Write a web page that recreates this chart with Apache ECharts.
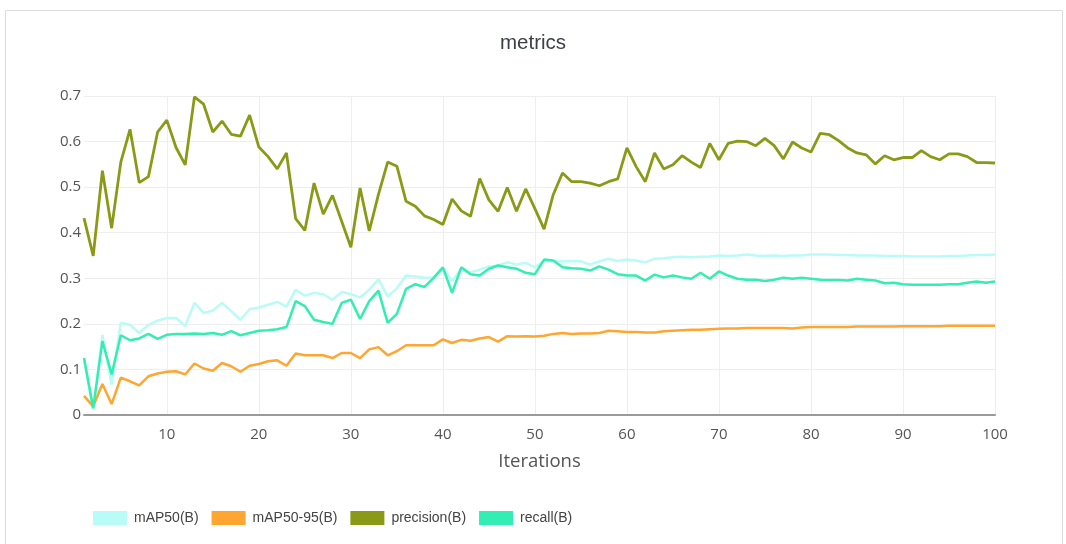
<!DOCTYPE html>
<html>
<head>
<meta charset="utf-8">
<script src="https://cdn.jsdelivr.net/npm/echarts@6/dist/echarts.min.js"></script>
<style>
html,body{margin:0;padding:0;background:#fff;}
#chart{width:1066px;height:544px;}
</style>
</head>
<body>
<div id="chart"></div>
<script>
const iterations = [1,2,3,4,5,6,7,8,9,10,11,12,13,14,15,16,17,18,19,20,21,22,23,24,25,26,27,28,29,30,31,32,33,34,35,36,37,38,39,40,41,42,43,44,45,46,47,48,49,50,51,52,53,54,55,56,57,58,59,60,61,62,63,64,65,66,67,68,69,70,71,72,73,74,75,76,77,78,79,80,81,82,83,84,85,86,87,88,89,90,91,92,93,94,95,96,97,98,99,100];

const mAP50 = [0.122,0.012,0.176,0.067,0.202,0.198,0.18,0.198,0.207,0.213,
0.213,0.195,0.246,0.224,0.229,0.246,0.228,0.209,0.232,0.236,
0.242,0.248,0.238,0.275,0.262,0.268,0.265,0.253,0.27,0.265,
0.258,0.275,0.298,0.26,0.278,0.306,0.304,0.301,0.302,0.322,
0.294,0.321,0.313,0.319,0.326,0.328,0.335,0.33,0.334,0.324,
0.338,0.338,0.337,0.338,0.337,0.33,0.337,0.343,0.338,0.341,
0.339,0.335,0.343,0.344,0.346,0.347,0.346,0.347,0.348,0.35,
0.349,0.35,0.352,0.35,0.349,0.35,0.349,0.35,0.35,0.352,
0.352,0.352,0.351,0.351,0.35,0.35,0.35,0.349,0.349,0.349,
0.348,0.348,0.348,0.348,0.349,0.349,0.35,0.351,0.351,0.352];

const mAP5095 = [0.042,0.019,0.068,0.024,0.082,0.074,0.065,0.085,0.091,0.095,
0.096,0.089,0.113,0.102,0.097,0.114,0.107,0.095,0.108,0.112,
0.118,0.12,0.108,0.135,0.131,0.131,0.131,0.125,0.136,0.136,
0.125,0.144,0.149,0.131,0.14,0.153,0.153,0.153,0.153,0.166,
0.158,0.165,0.163,0.168,0.171,0.161,0.173,0.172,0.173,0.172,
0.174,0.178,0.18,0.178,0.179,0.179,0.18,0.185,0.184,0.182,
0.182,0.181,0.181,0.184,0.185,0.186,0.187,0.187,0.188,0.189,
0.19,0.19,0.191,0.191,0.191,0.191,0.191,0.19,0.192,0.193,
0.193,0.193,0.193,0.193,0.194,0.194,0.194,0.194,0.194,0.195,
0.195,0.195,0.195,0.195,0.196,0.196,0.196,0.196,0.196,0.196];

const precision = [0.432,0.349,0.536,0.41,0.555,0.627,0.51,0.523,0.621,0.647,
0.587,0.549,0.698,0.682,0.621,0.645,0.616,0.612,0.658,0.588,
0.567,0.54,0.575,0.431,0.405,0.509,0.441,0.482,0.425,0.368,
0.498,0.404,0.484,0.555,0.546,0.469,0.458,0.437,0.429,0.418,
0.474,0.448,0.436,0.519,0.472,0.447,0.499,0.447,0.496,0.453,
0.408,0.484,0.531,0.512,0.512,0.509,0.503,0.512,0.518,0.586,
0.545,0.512,0.575,0.54,0.549,0.569,0.555,0.543,0.596,0.56,
0.596,0.601,0.6,0.591,0.607,0.591,0.562,0.599,0.586,0.577,
0.618,0.615,0.602,0.586,0.575,0.571,0.551,0.569,0.56,0.565,
0.565,0.58,0.567,0.56,0.573,0.573,0.567,0.554,0.554,0.553];

const recall = [0.125,0.015,0.162,0.089,0.175,0.164,0.168,0.178,0.167,0.176,
0.178,0.178,0.179,0.178,0.18,0.176,0.184,0.175,0.18,0.185,
0.186,0.188,0.193,0.25,0.239,0.209,0.204,0.2,0.246,0.253,
0.211,0.25,0.273,0.202,0.222,0.277,0.287,0.281,0.301,0.324,
0.268,0.324,0.309,0.306,0.321,0.328,0.324,0.321,0.312,0.309,
0.341,0.339,0.324,0.322,0.321,0.317,0.326,0.319,0.309,0.306,
0.306,0.295,0.308,0.302,0.306,0.302,0.299,0.312,0.299,0.315,
0.306,0.299,0.297,0.297,0.294,0.297,0.301,0.299,0.301,0.299,
0.297,0.296,0.296,0.295,0.299,0.297,0.295,0.289,0.29,0.287,
0.286,0.286,0.286,0.286,0.287,0.287,0.29,0.293,0.29,0.293];

const seriesNames = ['mAP50(B)','mAP50-95(B)','precision(B)','recall(B)'];
const seriesData = [mAP50, mAP5095, precision, recall];
const seriesColors = ['#b9fbf7','#ffa630','#8a9a16','#33eeb2'];
const yTicks = [0,0.1,0.2,0.3,0.4,0.5,0.6,0.7];

const chart = echarts.init(document.getElementById('chart'));
const showTick = (idx, val) => Number(val) % 10 === 0;

chart.setOption({
  backgroundColor: '#ffffff',
  animation: false,
  graphic: [{
    type: 'rect',
    shape: {x: 5.5, y: 10.5, width: 1057, height: 560},
    style: {fill: 'none', stroke: '#dcdcdc', lineWidth: 1},
    silent: true
  }],
  title: {
    text: 'metrics',
    left: 'center',
    top: 28,
    textStyle: {fontFamily: 'Liberation Sans, Arial, sans-serif', fontSize: 20.5, fontWeight: 'normal', color: '#3b3f48'}
  },
  legend: {
    data: seriesNames,
    left: 88,
    top: 506,
    icon: 'rect',
    itemWidth: 34,
    itemHeight: 14,
    itemGap: 13,
    textStyle: {fontFamily: 'Liberation Sans, Arial, sans-serif', fontSize: 14, color: '#444', padding: [0, 0, 0, 2]}
  },
  grid: {left: 84, right: 71, top: 96, bottom: 129, containLabel: false},
  xAxis: {
    type: 'category',
    data: iterations,
    boundaryGap: false,
    name: 'Iterations',
    nameLocation: 'middle',
    nameGap: 37,
    nameTextStyle: {fontFamily: 'Open Sans, sans-serif', fontSize: 18.5, color: '#555'},
    axisLine: {show: true, lineStyle: {color: '#9a9a9a', width: 2}},
    axisTick: {show: false},
    axisLabel: {interval: showTick, margin: 12, fontFamily: 'Open Sans, sans-serif', fontSize: 15, color: '#555'},
    splitLine: {show: true, interval: showTick, lineStyle: {color: '#eeeeee', width: 1}}
  },
  yAxis: {
    type: 'value',
    min: yTicks[0],
    max: yTicks[yTicks.length - 1],
    interval: 0.1,
    axisLine: {show: false},
    axisTick: {show: false},
    axisLabel: {margin: 3, fontFamily: 'Open Sans, sans-serif', fontSize: 15, color: '#555',
      formatter: v => (Math.abs(v) < 1e-9 ? '0' : String(Math.round(v * 10) / 10))},
    splitLine: {show: true, lineStyle: {color: '#eeeeee', width: 1}}
  },
  series: seriesNames.map((n, i) => ({
    name: n,
    type: 'line',
    data: seriesData[i],
    symbol: 'none',
    smooth: false,
    color: seriesColors[i],
    lineStyle: {color: seriesColors[i], width: i === 2 ? 2.8 : 2.5},
    z: 2 + i
  }))
});
</script>
</body>
</html>
